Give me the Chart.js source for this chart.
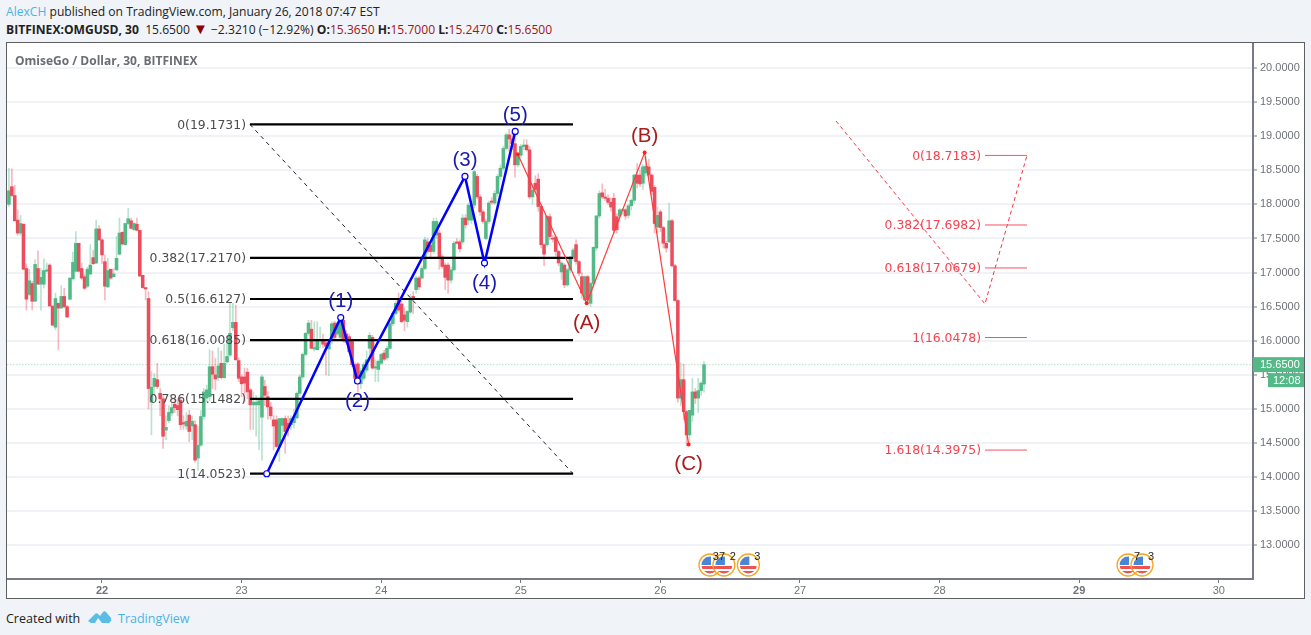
<!DOCTYPE html>
<html>
<head>
<meta charset="utf-8">
<title>OMGUSD</title>
<script src="https://cdn.jsdelivr.net/npm/chart.js@4"></script>
<style>
  html, body { margin: 0; padding: 0; }
  body { width: 1311px; height: 635px; background: #f0f3f8; overflow: hidden; position: relative; font-family: "Open Sans", sans-serif; color: #222; }
  .line { position: absolute; white-space: nowrap; font-size: 12.1px; }
  #frame { position: absolute; left: 6px; top: 42px; width: 1297px; height: 555px; background: #fff; border: 1px solid #5d5f63; }
  #chart { position: absolute; left: 7px; top: 43px; }
  #title { position: absolute; left: 15px; top: 52px; font-size: 12px; font-weight: 700; color: #6a6d72; }
  .blue { color: #4bb3e6; }
  .red { color: #a31515; }
</style>
</head>
<body>
<div class="line" style="left:6px;top:3px"><span class="blue">AlexCH</span> published on TradingView.com, January 26, 2018 07:47 EST</div>
<div class="line" style="left:6px;top:21px"><b>BITFINEX:OMGUSD, 30</b>&nbsp; 15.6500 <span style="color:#8b0000;font-size:15px;line-height:12px">▼</span> −2.3210 (−12.92%) <b>O:</b><span class="red">15.3650</span> <b>H:</b><span class="red">15.7000</span> <b>L:</b><span class="red">15.2470</span> <b>C:</b><span class="red">15.6500</span></div>
<div id="frame"></div>
<canvas id="chart" width="1297" height="555"></canvas>
<div id="title">OmiseGo / Dollar, 30, BITFINEX</div>
<div class="line" style="left:6px;top:610px;font-size:12.5px">Created with</div>
<svg style="position:absolute;left:87px;top:609px" width="25" height="16" viewBox="0 0 25 16"><path d="M1 12 L8 5 Q9.5 3.5 11 5 L13 7 L16 3 Q17.5 1.5 19 3 L24 9 Q25 12 22 14 L15 14 L11 9 L8 14 L4 14 Z" fill="#59bde8"/></svg>
<div class="line blue" style="left:118px;top:610px;font-size:12.5px">TradingView</div>

<script>
document.addEventListener('DOMContentLoaded', () => {
  // Bougies 30 min, une par demi-heure depuis le 21
  const firstBarDay = 21 + 16 / 48;
  const barsPerDay = 48;
  const opens = [
    18.00,18.26,18.13,17.77,17.58,17.71,17.06,16.68,16.84,16.58,17.06,16.83,16.83,17.02,17.11,16.51,16.20,16.55,16.48,16.65,
    16.50,16.61,16.91,17.02,17.43,17.06,16.94,16.80,16.98,17.22,17.14,17.64,17.48,17.16,16.79,17.05,16.94,17.04,17.27,17.59,
    17.41,17.72,17.76,17.63,17.71,17.62,16.96,16.78,16.62,15.10,15.33,15.43,15.23,15.15,14.69,14.83,14.94,15.07,15.05,15.13,
    14.80,14.75,14.91,14.75,14.77,14.28,14.47,14.89,15.16,15.18,15.62,15.50,15.46,15.67,15.46,15.69,15.79,16.19,16.27,15.71,
    15.47,15.47,15.54,15.28,15.06,15.06,15.06,14.88,15.33,15.18,15.03,14.84,14.84,14.45,14.76,14.86,14.79,14.77,14.80,14.87,
    15.23,15.47,15.80,16.11,16.17,15.88,15.87,16.00,16.02,15.97,15.88,16.00,16.26,16.10,16.05,16.30,16.10,16.06,16.00,15.65,
    15.66,15.37,15.45,15.57,15.89,16.05,15.60,15.58,15.67,15.82,15.75,15.89,16.25,16.40,16.62,16.54,16.38,16.28,16.42,16.65,
    16.75,16.92,16.92,17.06,17.45,17.40,17.31,17.55,17.58,17.23,17.11,17.11,16.89,17.04,17.45,17.45,17.45,17.80,17.77,17.77,
    17.99,18.41,18.11,17.89,17.50,17.75,18.05,18.02,18.16,18.41,18.53,18.82,19.02,18.96,18.89,18.58,18.72,18.85,18.87,18.80,
    18.11,18.31,18.37,17.97,17.41,17.41,17.82,17.50,17.52,17.31,17.01,17.11,16.82,17.04,17.21,17.41,17.16,16.94,16.60,16.94,
    16.55,16.84,17.36,17.83,18.17,18.11,18.09,18.03,18.09,17.82,17.83,17.91,17.92,17.84,17.98,18.06,18.43,18.43,18.31,18.46,
    18.55,18.43,18.25,17.67,17.89,17.66,17.43,17.45,17.76,17.10,16.59,15.16,15.43,14.96,14.62,14.91,15.25,15.16,15.27,15.365
  ];
  const highs = [
    18.53,18.52,18.28,17.92,17.84,17.71,17.13,17.05,16.87,17.19,17.32,17.06,17.20,17.14,17.13,16.51,16.70,16.55,16.81,16.77,
    16.52,16.92,17.30,17.60,17.43,17.14,16.97,17.08,17.41,17.33,17.77,17.69,17.50,17.26,17.21,17.05,17.06,17.53,17.80,17.60,
    17.72,17.94,17.80,17.73,17.80,17.62,16.96,16.78,16.72,15.55,15.52,15.67,15.30,15.20,14.90,15.05,15.10,15.15,15.15,15.18,
    14.90,14.95,14.98,14.90,14.83,14.75,14.98,15.30,15.35,15.87,15.85,15.74,15.90,15.85,15.95,16.05,16.55,16.55,16.52,15.75,
    15.50,15.60,15.60,15.30,15.25,15.20,15.15,15.50,15.42,15.25,15.10,14.90,14.90,14.86,14.87,14.90,14.90,14.90,15.00,15.25,
    15.50,15.82,16.12,16.30,16.30,16.28,16.28,16.20,16.10,16.02,16.02,16.28,16.29,16.28,16.30,16.33,16.15,16.10,16.02,15.68,
    15.68,15.60,15.68,15.85,16.12,16.08,15.72,15.72,15.82,15.86,15.92,16.28,16.42,16.58,16.70,16.58,16.48,16.45,16.68,16.72,
    16.95,16.95,17.10,17.52,17.50,17.42,17.80,17.80,17.62,17.26,17.14,17.14,17.08,17.46,17.50,17.48,17.85,17.85,18.02,18.05,
    18.50,18.44,18.14,17.92,17.78,18.05,18.10,18.20,18.44,18.58,18.85,19.05,19.10,19.05,19.02,18.74,18.88,18.95,18.95,18.85,
    18.30,18.42,18.45,18.00,17.42,17.83,17.86,17.55,17.54,17.33,17.16,17.13,17.06,17.24,17.36,17.48,17.18,17.00,16.95,16.96,
    16.86,17.38,17.84,18.20,18.30,18.22,18.14,18.10,18.16,17.86,17.94,17.94,17.94,18.00,18.08,18.44,18.60,18.50,18.58,18.70,
    18.66,18.45,18.28,17.96,17.92,17.68,17.46,18.02,17.78,17.12,16.60,15.68,15.66,14.98,14.98,15.45,15.30,15.45,15.40,15.70
  ];
  const lows = [
    17.97,18.11,17.75,17.55,17.55,17.04,16.45,16.66,16.45,16.58,16.83,16.45,16.77,17.01,16.51,16.22,16.16,15.87,16.48,16.48,
    16.34,16.60,16.89,17.01,17.01,16.90,16.75,16.78,16.97,17.12,17.13,17.47,17.13,16.60,16.78,16.90,16.93,17.03,17.26,17.40,
    17.40,17.70,17.64,17.62,17.61,16.94,16.77,16.60,15.00,14.62,15.20,15.30,14.90,14.42,14.55,14.80,14.90,14.95,14.90,14.70,
    14.70,14.70,14.52,14.55,14.22,14.10,14.45,14.85,15.10,15.12,15.30,15.28,15.42,15.44,15.45,15.67,15.77,16.15,15.72,15.40,
    15.18,15.10,15.15,14.70,14.70,14.60,14.40,14.25,15.05,14.85,14.85,14.40,14.44,14.23,14.60,14.35,14.60,14.70,14.72,14.85,
    15.20,15.45,15.78,16.08,15.88,15.85,15.86,15.90,15.90,15.50,15.49,15.95,16.03,16.08,16.02,15.98,15.95,15.82,15.62,15.43,
    15.25,15.30,15.42,15.54,15.70,15.58,15.40,15.40,15.65,15.71,15.72,15.88,16.22,16.38,16.42,16.26,16.15,16.20,16.40,16.40,
    16.70,16.75,16.90,17.04,17.28,17.20,17.28,17.50,17.05,17.06,16.75,16.70,16.85,17.02,17.42,17.30,17.42,17.65,17.70,17.72,
    17.95,18.08,17.84,17.72,17.48,17.72,18.00,18.00,18.12,18.36,18.50,18.80,18.78,18.80,18.40,18.55,18.68,18.80,18.78,18.08,
    18.00,18.18,17.90,17.36,17.10,17.38,17.48,17.45,17.24,17.10,16.90,16.78,16.80,17.00,17.18,17.12,16.95,16.62,16.58,16.56,
    16.50,16.78,17.32,17.80,18.08,18.06,18.00,17.90,17.58,17.58,17.75,17.85,17.78,17.80,17.92,18.02,18.24,18.26,18.22,18.42,
    18.40,18.14,17.58,17.58,17.60,17.36,17.30,17.44,17.08,16.58,15.10,15.05,14.84,14.46,14.48,14.82,15.08,14.95,15.20,15.247
  ];
  const closes = [
    18.20,18.13,17.76,17.58,17.72,17.05,16.61,16.88,16.58,17.12,16.83,16.93,17.03,17.04,16.51,16.23,16.62,16.48,16.65,16.50,
    16.35,16.92,17.15,17.43,17.02,16.92,16.77,17.05,17.11,17.13,17.64,17.48,17.26,16.80,17.03,16.92,16.98,17.21,17.58,17.42,
    17.72,17.79,17.65,17.72,17.62,16.95,16.78,16.76,15.30,15.32,15.45,15.33,15.15,14.60,14.73,14.95,15.02,15.02,14.99,14.77,
    14.78,14.82,14.67,14.82,14.25,14.47,14.89,15.25,15.28,15.62,15.51,15.44,15.63,15.46,15.67,15.77,16.11,16.27,15.72,15.45,
    15.37,15.38,15.25,15.06,15.10,15.10,15.12,15.47,15.20,15.03,14.90,14.75,14.45,14.86,14.86,14.67,14.73,14.86,14.87,15.23,
    15.47,15.80,16.11,16.26,15.89,15.90,16.00,16.02,15.95,15.92,15.98,16.25,16.05,16.26,16.28,16.00,15.98,15.84,15.65,15.45,
    15.40,15.56,15.65,15.72,16.08,15.60,15.62,15.70,15.80,15.73,15.89,16.25,16.40,16.55,16.45,16.28,16.30,16.43,16.62,16.62,
    16.92,16.79,17.06,17.48,17.31,17.31,17.75,17.75,17.21,17.09,16.93,16.89,17.04,17.43,17.43,17.35,17.80,17.70,17.99,17.99,
    18.48,18.11,17.89,17.75,17.75,18.02,18.03,18.16,18.41,18.53,18.82,19.02,18.96,18.89,18.58,18.72,18.85,18.87,18.80,18.11,
    18.21,18.22,17.97,17.41,17.27,17.83,17.53,17.49,17.31,17.14,17.14,16.82,17.04,17.21,17.33,17.16,16.99,16.70,16.94,16.60,
    16.84,17.37,17.83,18.16,18.11,18.09,18.03,17.96,17.62,17.63,17.92,17.92,17.83,17.98,18.06,18.43,18.31,18.30,18.55,18.56,
    18.43,18.19,17.72,17.84,17.66,17.43,17.36,17.76,17.10,16.59,15.16,15.43,14.96,14.62,14.98,15.25,15.16,15.27,15.38,15.65
  ];

  const priceTicks = [13, 13.5, 14, 14.5, 15, 15.5, 16, 16.5, 17, 17.5, 18, 18.5, 19, 19.5, 20];
  const dayTicks = [22, 23, 24, 25, 26, 27, 28, 29, 30];
  const weekStartDays = [22, 29];
  const lastPrice = 15.65;
  const lastPriceLabel = '15.6500';
  const countdownLabel = '12:08';

  // Fibonacci a gauche, noir
  const fibLeftRatios = ['0', '0.382', '0.5', '0.618', '0.786', '1'];
  const fibLeftValues = [19.1731, 17.2170, 16.6127, 16.0085, 15.1482, 14.0523];
  const fibLeftDays = [23.06, 25.374];
  const fibDiagonalDays = [23.06, 25.374];
  const fibDiagonalPrices = [19.1731, 14.0523];

  // Fibonacci a droite, rouge
  const fibRightRatios = ['0', '0.382', '0.618', '1', '1.618'];
  const fibRightValues = [18.7183, 17.6982, 17.0679, 16.0478, 14.3975];
  const fibRightDays = [28.325, 28.626];
  const trendDays = [27.258, 28.325, 28.626];
  const trendPrices = [19.223, 16.54, 18.7183];

  // Vagues d'Elliott
  const impulseDays = [23.18, 23.71, 23.83, 24.60, 24.74, 24.96];
  const impulsePrices = [14.05, 16.34, 15.41, 18.41, 17.14, 19.07];
  const impulseLabels = ['', '(1)', '(2)', '(3)', '(4)', '(5)'];
  const impulseLabelSides = [0, -1, 1, -1, 1, -1];
  const correctionDays = [24.978, 25.472, 25.887, 26.202];
  const correctionPrices = [18.735, 16.55, 18.76, 14.48];
  const correctionLabels = ['', '(A)', '(B)', '(C)'];
  const correctionLabelSides = [0, 1, -1, 1];

  // Evenements economiques sous le graphique
  const eventDays = [26.355, 26.455, 26.63, 29.35, 29.45];
  const eventCounts = ['37', '2', '3', '7', '3'];

  const upColor = '#53b987';
  const downColor = '#eb4d5c';
  const upWick = 'rgba(83, 185, 135, 0.4)';
  const downWick = 'rgba(235, 77, 92, 0.4)';

  const barDays = opens.map((o, i) => firstBarDay + i / barsPerDay);
  const isUp = opens.map((o, i) => closes[i] >= o);

  const lineData = (xs, ys) => xs.map((x, i) => ({ x, y: ys[i] }));
  const hLine = (value, days, color, width) => ({
    type: 'line',
    data: days.map(x => ({ x, y: value })),
    borderColor: color,
    borderWidth: width,
    pointRadius: 0,
    order: 3
  });
  const labelShift = side => (side < 0 ? -16 : 20);

  // Etiquettes, drapeaux et prix courant, places via les echelles
  const overlay = {
    id: 'overlay',
    afterDatasetsDraw(chart) {
      const { ctx, scales: { x, y }, chartArea } = chart;
      ctx.save();
      ctx.textBaseline = 'middle';

      ctx.font = '12.4px "DejaVu Sans"';
      ctx.textAlign = 'right';
      ctx.fillStyle = '#4c4c4c';
      fibLeftValues.forEach((v, i) => {
        ctx.fillText(fibLeftRatios[i] + '(' + v.toFixed(4) + ')', x.getPixelForValue(fibLeftDays[0]) - 4, y.getPixelForValue(v) + 1);
      });
      ctx.fillStyle = '#f5434f';
      fibRightValues.forEach((v, i) => {
        ctx.fillText(fibRightRatios[i] + '(' + v.toFixed(4) + ')', x.getPixelForValue(fibRightDays[0]) - 4, y.getPixelForValue(v) + 1);
      });

      ctx.textAlign = 'center';
      ctx.font = '20.5px "Liberation Sans"';
      ctx.fillStyle = '#1a1ab0';
      impulseLabels.forEach((t, i) => {
        if (t) ctx.fillText(t, x.getPixelForValue(impulseDays[i]), y.getPixelForValue(impulsePrices[i]) + labelShift(impulseLabelSides[i]));
      });
      ctx.fillStyle = '#a81c1c';
      correctionLabels.forEach((t, i) => {
        if (t) ctx.fillText(t, x.getPixelForValue(correctionDays[i]), y.getPixelForValue(correctionPrices[i]) + labelShift(correctionLabelSides[i]));
      });

      // drapeaux US
      const cy = chartArea.bottom - 14;
      eventDays.forEach(day => {
        const cx = x.getPixelForValue(day);
        ctx.save();
        ctx.beginPath();
        ctx.arc(cx, cy, 8.5, 0, Math.PI * 2);
        ctx.clip();
        ctx.fillStyle = '#fff';
        ctx.fillRect(cx - 9, cy - 9, 18, 18);
        ctx.fillStyle = '#ef5350';
        ctx.fillRect(cx - 9, cy + 1, 18, 3);
        ctx.fillRect(cx - 9, cy + 6, 18, 3);
        ctx.fillStyle = '#4a86d8';
        ctx.fillRect(cx - 9, cy - 9, 10, 9);
        ctx.restore();
        ctx.beginPath();
        ctx.arc(cx, cy, 11, 0, Math.PI * 2);
        ctx.strokeStyle = '#f5a623';
        ctx.lineWidth = 1.3;
        ctx.stroke();
      });
      ctx.font = '11px "Liberation Sans"';
      ctx.fillStyle = '#222';
      eventDays.forEach((day, i) => {
        ctx.fillText(eventCounts[i], x.getPixelForValue(day) + 9, cy - 8);
      });

      // prix courant sur l'axe
      const py = y.getPixelForValue(lastPrice);
      ctx.fillStyle = upColor;
      ctx.fillRect(chartArea.right, py - 7.5, 51, 15);
      ctx.fillRect(chartArea.right + 15, py + 8.5, 36, 14);
      ctx.fillStyle = '#fff';
      ctx.font = '11px "Liberation Sans"';
      ctx.textAlign = 'left';
      ctx.fillText(lastPriceLabel, chartArea.right + 7, py + 0.5);
      ctx.fillText(countdownLabel, chartArea.right + 20, py + 16);
      ctx.restore();
    }
  };

  new Chart(document.getElementById('chart').getContext('2d'), {
    type: 'bar',
    plugins: [overlay],
    data: {
      datasets: [
        {
          // corps des bougies
          data: barDays.map((x, i) => ({ x, y: [opens[i], closes[i]] })),
          backgroundColor: isUp.map(u => (u ? upColor : downColor)),
          barThickness: 2.9,
          minBarLength: 1,
          grouped: false,
          order: 5
        },
        {
          // meches
          data: barDays.map((x, i) => ({ x, y: [lows[i], highs[i]] })),
          backgroundColor: isUp.map(u => (u ? upWick : downWick)),
          barThickness: 1,
          grouped: false,
          order: 6
        },
        {
          type: 'line',
          data: [{ x: 21, y: lastPrice }, { x: 31, y: lastPrice }],
          borderColor: 'rgba(83, 185, 135, 0.65)',
          borderWidth: 1,
          borderDash: [1, 2],
          pointRadius: 0,
          order: 7
        },
        ...fibLeftValues.map(v => hLine(v, fibLeftDays, '#000', 2.2)),
        {
          type: 'line',
          data: lineData(fibDiagonalDays, fibDiagonalPrices),
          borderColor: '#222',
          borderWidth: 1,
          borderDash: [4, 4],
          pointRadius: 0,
          order: 3
        },
        ...fibRightValues.map(v => hLine(v, fibRightDays, '#f7525f', 1)),
        {
          type: 'line',
          data: lineData(trendDays, trendPrices),
          borderColor: '#f23645',
          borderWidth: 1,
          borderDash: [4, 3],
          pointRadius: 0,
          order: 3
        },
        {
          type: 'line',
          data: lineData(correctionDays, correctionPrices),
          borderColor: '#ff3b3b',
          borderWidth: 1.2,
          pointRadius: 2,
          pointBackgroundColor: '#ff2020',
          pointBorderWidth: 0,
          order: 2
        },
        {
          type: 'line',
          data: lineData(impulseDays, impulsePrices),
          borderColor: '#0000ff',
          borderWidth: 2.5,
          pointRadius: 3,
          pointBackgroundColor: '#fff',
          pointBorderColor: '#0000ff',
          pointBorderWidth: 1.2,
          order: 1
        }
      ]
    },
    options: {
      responsive: false,
      animation: false,
      events: [],
      layout: { padding: 0, autoPadding: false },
      plugins: {
        legend: { display: false },
        tooltip: { enabled: false }
      },
      scales: {
        x: {
          type: 'linear',
          offset: false,
          min: 21.3195,
          max: 30.245,
          afterFit: scale => {
            scale.height = 19;
            scale.paddingLeft = 0;
            scale.paddingRight = 0;
          },
          afterBuildTicks: scale => { scale.ticks = dayTicks.map(value => ({ value })); },
          grid: { drawOnChartArea: false, tickLength: 4, tickColor: '#787b86', offset: false },
          border: { color: '#787b86', width: 2 },
          ticks: {
            autoSkip: false,
            maxRotation: 0,
            padding: 1,
            color: '#6f7277',
            font: ctx => ({
              family: '"Liberation Sans"',
              size: 11,
              weight: weekStartDays.includes(ctx.tick && ctx.tick.value) ? 'bold' : 'normal'
            }),
            callback: v => String(v)
          }
        },
        y: {
          position: 'right',
          min: 12.507,
          max: 20.3666,
          afterFit: scale => {
            scale.width = 51;
            scale.paddingTop = 0;
            scale.paddingBottom = 0;
          },
          afterBuildTicks: scale => { scale.ticks = priceTicks.map(value => ({ value })); },
          grid: { color: '#eff3f8', lineWidth: 2, tickLength: 4, tickColor: '#787b86', tickWidth: 1 },
          border: { color: '#787b86', width: 2 },
          ticks: {
            autoSkip: false,
            padding: 3,
            color: '#6f7277',
            font: { family: '"Liberation Sans"', size: 11 },
            callback: v => v.toFixed(4)
          }
        }
      }
    }
  });
});
</script>
</body>
</html>
